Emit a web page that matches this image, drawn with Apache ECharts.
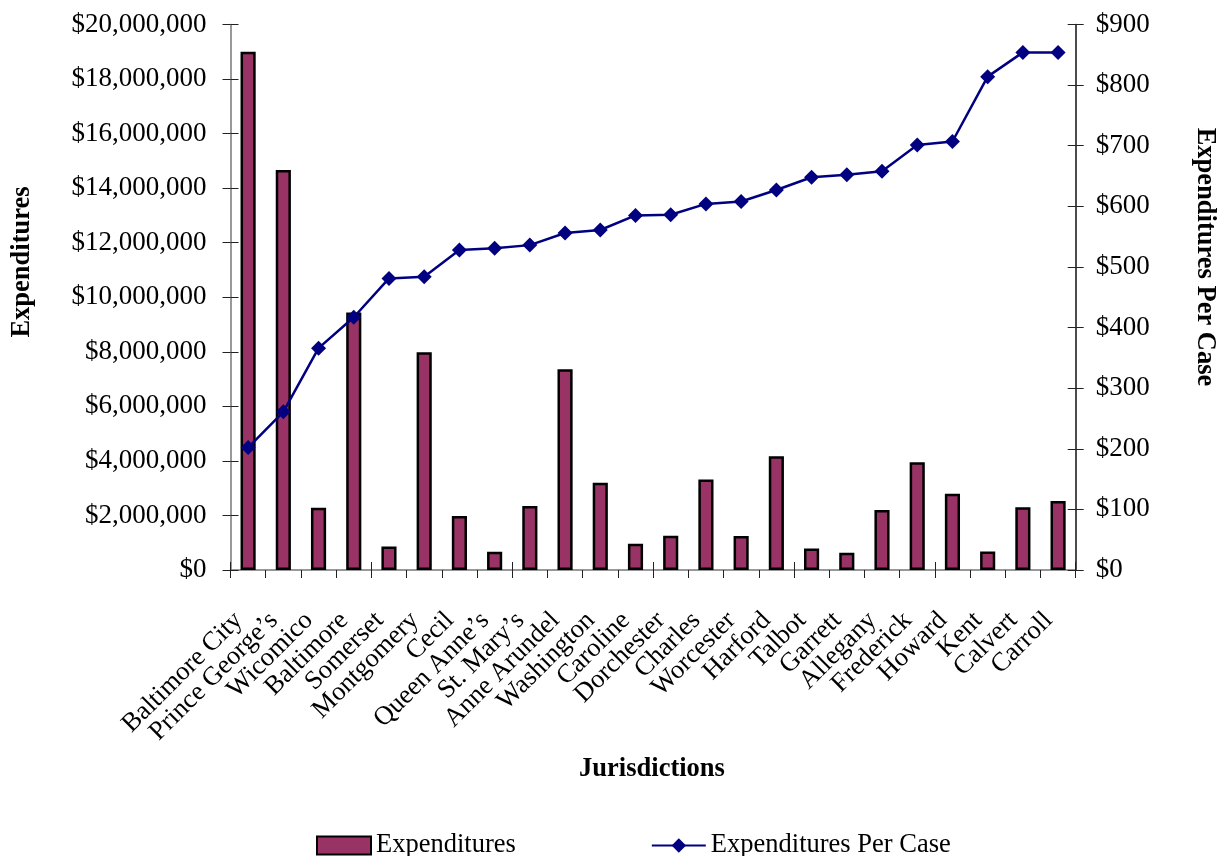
<!DOCTYPE html>
<html>
<head>
<meta charset="utf-8">
<script src="https://cdn.jsdelivr.net/npm/echarts@6/dist/echarts.min.js"></script>
<style>
html,body{margin:0;padding:0;background:#fff;}
#chart{width:1220px;height:856px;}
</style>
</head>
<body>
<div id="chart"></div>
<script>
const categories = ["Baltimore City","Prince George\u2019s","Wicomico","Baltimore","Somerset","Montgomery","Cecil","Queen Anne\u2019s","St. Mary\u2019s","Anne Arundel","Washington","Caroline","Dorchester","Charles","Worcester","Harford","Talbot","Garrett","Allegany","Frederick","Howard","Kent","Calvert","Carroll"];
const expenditures = [19000000,14670000,2280000,9440000,860000,7980000,1980000,670000,2350000,7360000,3200000,960000,1260000,3320000,1250000,4170000,790000,630000,2200000,3950000,2800000,680000,2300000,2530000];
const perCase = [202,261,366,417,481,484,528,531,536,556,561,585,586,604,608,627,648,652,658,701,707,814,854,854];
const leftTicks = {min:0, max:20000000, interval:2000000};
const rightTicks = {min:0, max:900, interval:100};

const FONT = "Liberation Serif";
const chart = echarts.init(document.getElementById('chart'), null, {renderer:'canvas'});
function money(v){ return '$' + Math.round(v).toString().replace(/\B(?=(\d{3})+(?!\d))/g, ','); }
const axisLineColor = '#777';
chart.setOption({
  animation:false,
  backgroundColor:'#fff',
  grid:{left:230.5, right:144.3, top:24.5, bottom:286, containLabel:false},
  legend:{
    left:316, top:832, padding:0, itemWidth:54, itemHeight:18, itemGap:135,
    textStyle:{fontFamily:FONT, fontSize:26.5, color:'#000'},
    data:[{name:'Expenditures', icon:'rect'},{name:'Expenditures Per Case'}]
  },
  xAxis:[{
    type:'category', data:categories, position:'bottom',
    axisLine:{lineStyle:{color:axisLineColor, width:1.5}},
    axisTick:{show:true, length:8, inside:false, lineStyle:{color:'#222'}},
    axisLabel:{rotate:45, interval:0, margin:56, verticalAlign:'bottom', fontFamily:FONT, fontSize:26.5, color:'#000'}
  },{
    type:'category', data:categories, position:'bottom',
    axisLine:{show:false},
    axisTick:{show:true, length:8, inside:true, lineStyle:{color:'#222'}},
    axisLabel:{show:false}
  }],
  yAxis:[{
    type:'value', position:'left', min:leftTicks.min, max:leftTicks.max, interval:leftTicks.interval,
    splitLine:{show:false},
    axisLine:{show:true, lineStyle:{color:axisLineColor, width:1.5}},
    axisTick:{show:true, length:8, lineStyle:{color:'#222'}},
    axisLabel:{margin:24, formatter:money, fontFamily:FONT, fontSize:27, color:'#000'}
  },{
    type:'value', position:'right', min:rightTicks.min, max:rightTicks.max, interval:rightTicks.interval,
    splitLine:{show:false},
    axisLine:{show:true, lineStyle:{color:'#111', width:1.5}},
    axisTick:{show:true, length:8, inside:true, lineStyle:{color:'#222'}},
    axisLabel:{margin:20, formatter:money, fontFamily:FONT, fontSize:27, color:'#000'}
  },{
    type:'value', position:'right', min:rightTicks.min, max:rightTicks.max, interval:rightTicks.interval,
    splitLine:{show:false},
    axisLine:{show:false},
    axisTick:{show:true, length:8, inside:false, lineStyle:{color:'#222'}},
    axisLabel:{show:false}
  },{
    type:'value', position:'left', min:leftTicks.min, max:leftTicks.max, interval:leftTicks.interval,
    splitLine:{show:false},
    axisLine:{show:false},
    axisTick:{show:true, length:8, inside:true, lineStyle:{color:'#222'}},
    axisLabel:{show:false}
  }],
  graphic:[
    {type:'text', x:22, y:262, rotation:Math.PI/2,
     style:{text:'Expenditures', font:'bold 26.5px "Liberation Serif"', fill:'#000', align:'center', verticalAlign:'middle'}},
    {type:'text', x:1205, y:257, rotation:-Math.PI/2,
     style:{text:'Expenditures Per Case', font:'bold 26.5px "Liberation Serif"', fill:'#000', align:'center', verticalAlign:'middle'}},
    {type:'text', x:652, y:769,
     style:{text:'Jurisdictions', font:'bold 26.5px "Liberation Serif"', fill:'#000', align:'center', verticalAlign:'middle'}}
  ],
  series:[{
    name:'Expenditures', type:'bar', data:expenditures, xAxisIndex:0, yAxisIndex:0,
    barWidth:'43%',
    itemStyle:{color:'#993366', borderColor:'#000', borderWidth:2.5}
  },{
    name:'Expenditures Per Case', type:'line', data:perCase, xAxisIndex:0, yAxisIndex:1,
    symbol:'diamond', symbolSize:15,
    lineStyle:{color:'#000080', width:2.5},
    itemStyle:{color:'#000080'}
  }]
});
</script>
</body>
</html>
